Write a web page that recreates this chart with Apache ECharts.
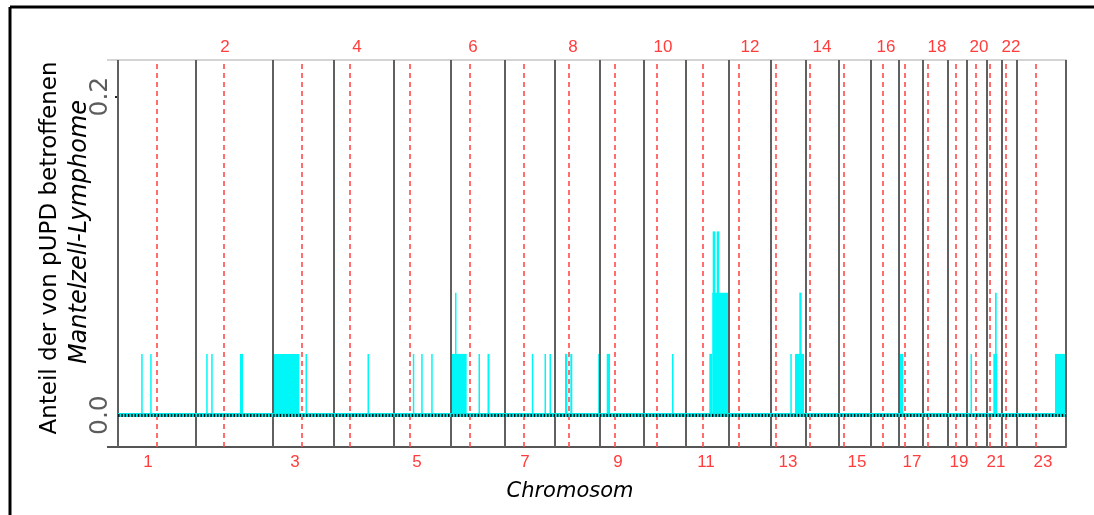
<!DOCTYPE html>
<html>
<head>
<meta charset="utf-8">
<script src="https://cdn.jsdelivr.net/npm/echarts@6/dist/echarts.min.js"></script>
<style>
    html, body { margin: 0; padding: 0; background: #fff; }
    #pupdChart { width: 1094px; height: 515px; }
</style>
</head>
<body>
<div id="pupdChart"></div>
<script type="text/javascript">
    // genome position units along the x axis
    var chromBounds = [0, 78, 155, 216, 276, 333, 387, 437, 482, 526, 568, 611, 653, 688, 721, 753, 781, 805, 830, 849, 869, 884, 899, 948];
    var centromeres = [39, 106, 184, 232, 292, 352, 406, 451, 497, 539, 585, 621, 658, 692, 726, 765, 787, 810, 838, 858, 872, 888, 918];
    var evenLabelPos = [107, 239, 355, 455, 545, 632, 704, 768, 819, 861, 893];
    var evenLabels = ['2', '4', '6', '8', '10', '12', '14', '16', '18', '20', '22'];
    var oddLabelPos = [30, 177, 299, 407, 500, 588, 670, 739, 794, 841, 878, 925];
    var oddLabels = ['1', '3', '5', '7', '9', '11', '13', '15', '17', '19', '21', '23'];
    var yTickValues = [0, 0.2];
    var yTickLabels = ['0.0', '0.2'];

    // number of tumours (of 26) with pUPD in each region: [start, end, count]
    var nSamples = 26;
    var segStart = [23.2, 32.2, 88.2, 93.2, 122, 155, 187.5, 249.5, 294.8, 303.2, 313.2, 333.7, 337, 360.5, 369.5, 413.8, 426.5, 431.5, 447, 452.3, 480.2, 488.7, 554, 591.3, 594.3, 594.7, 598.7, 672.3, 677, 681.3, 781.3, 852.5, 875.3, 877, 937];
    var segEnd   = [24.7, 33.7, 89.7, 94.7, 125, 181.3, 189, 251, 296.3, 304.7, 314.7, 348.7, 338.5, 362, 371.5, 415.3, 428, 433, 449.3, 454.3, 481.8, 492, 555.5, 594.3, 610.3, 597.3, 601.3, 673.8, 686, 683.7, 785.3, 854, 879.3, 878.7, 947];
    var segCount = [1, 1, 1, 1, 1, 1, 1, 1, 1, 1, 1, 1, 2, 1, 1, 1, 1, 1, 1, 1, 1, 1, 1, 1, 2, 3, 3, 1, 1, 2, 1, 1, 1, 2, 1];

    var segData = [];
    for (var i = 0; i < segStart.length; i++) {
        segData.push([segStart[i], segEnd[i], segCount[i] / nSamples]);
    }

    var lines = [];
    for (var i = 0; i < chromBounds.length; i++) {
        lines.push({ xAxis: chromBounds[i], lineStyle: { color: '#606060', width: 2, type: 'solid' } });
    }
    for (var i = 0; i < centromeres.length; i++) {
        lines.push({ xAxis: centromeres[i], lineStyle: { color: '#ff4a4a', width: 1.6, type: [5, 4] } });
    }
    lines.push({ yAxis: 0, lineStyle: { color: '#00e5e5', width: 4, type: 'solid' } });
    lines.push({ yAxis: 0, lineStyle: { color: '#111', width: 3, type: [1.5, 1.8] } });

    var redLabel = { color: '#ff3d3d', fontSize: 17, fontFamily: 'Liberation Sans, Arial, sans-serif' };
    var titleFont = 'DejaVu Sans, sans-serif';

    var myChart = echarts.init(document.getElementById('pupdChart'));
    var option = {
        animation: false,
        grid: { left: 118, right: 28, top: 60, bottom: 68 },
        xAxis: [
            {
                type: 'value', position: 'bottom', min: 0, max: 948,
                splitLine: { show: false },
                axisLine: { show: true, onZero: false, lineStyle: { color: '#555', width: 2 } },
                axisTick: { show: false },
                axisLabel: Object.assign({ customValues: oddLabelPos, margin: 7, formatter: function (v) {
                    return oddLabels[oddLabelPos.indexOf(v)];
                } }, redLabel)
            },
            {
                type: 'value', position: 'top', min: 0, max: 948,
                splitLine: { show: false },
                axisLine: { show: true, onZero: false, lineStyle: { color: '#d4d4d4', width: 2 } },
                axisTick: { show: false },
                axisLabel: Object.assign({ customValues: evenLabelPos, margin: 4, formatter: function (v) {
                    return evenLabels[evenLabelPos.indexOf(v)];
                } }, redLabel)
            }
        ],
        yAxis: {
            type: 'value', min: -0.02, max: 0.223,
            splitLine: { show: false },
            axisLine: { show: false },
            axisTick: { show: true, customValues: [0.2], length: 3, lineStyle: { color: '#222', width: 2 } },
            axisLabel: {
                customValues: yTickValues, rotate: 90, margin: 5,
                color: '#5c5c5c', fontSize: 25, fontFamily: titleFont,
                formatter: function (v) { return yTickLabels[yTickValues.indexOf(v)]; }
            }
        },
        series: [
            {
                type: 'custom',
                data: segData,
                encode: { x: [0, 1], y: 2 },
                renderItem: function (params, api) {
                    var top = api.coord([api.value(0), api.value(2)]);
                    var bottom = api.coord([api.value(1), 0]);
                    return {
                        type: 'rect',
                        shape: { x: top[0], y: top[1], width: Math.max(bottom[0] - top[0], 1.5), height: bottom[1] - top[1] },
                        style: { fill: '#00f7f7' }
                    };
                },
                markLine: { silent: true, symbol: 'none', label: { show: false }, data: lines }
            }
        ],
        graphic: [
            { type: 'line', shape: { x1: 10, y1: 7, x2: 1094, y2: 7 }, style: { stroke: '#000', lineWidth: 3 } },
            { type: 'line', shape: { x1: 10, y1: 7, x2: 10, y2: 515 }, style: { stroke: '#000', lineWidth: 3 } },
            { type: 'line', shape: { x1: 107, y1: 60, x2: 118, y2: 60 }, style: { stroke: '#d4d4d4', lineWidth: 2 } },
            { type: 'line', shape: { x1: 107, y1: 447, x2: 118, y2: 447 }, style: { stroke: '#555', lineWidth: 2 } },
            { type: 'text', x: 50, y: 248, rotation: Math.PI / 2,
              style: { text: 'Anteil der von pUPD betroffenen', fill: '#000', fontSize: 23, fontFamily: titleFont, align: 'center', verticalAlign: 'middle' } },
            { type: 'text', x: 80, y: 232, rotation: Math.PI / 2,
              style: { text: 'Mantelzell-Lymphome', fill: '#000', fontSize: 24, fontStyle: 'italic', fontFamily: titleFont, align: 'center', verticalAlign: 'middle' } },
            { type: 'text', x: 570, y: 492,
              style: { text: 'Chromosom', fill: '#000', fontSize: 21, fontStyle: 'italic', fontFamily: titleFont, align: 'center', verticalAlign: 'middle' } }
        ]
    };
    myChart.setOption(option);
</script>
</body>
</html>
